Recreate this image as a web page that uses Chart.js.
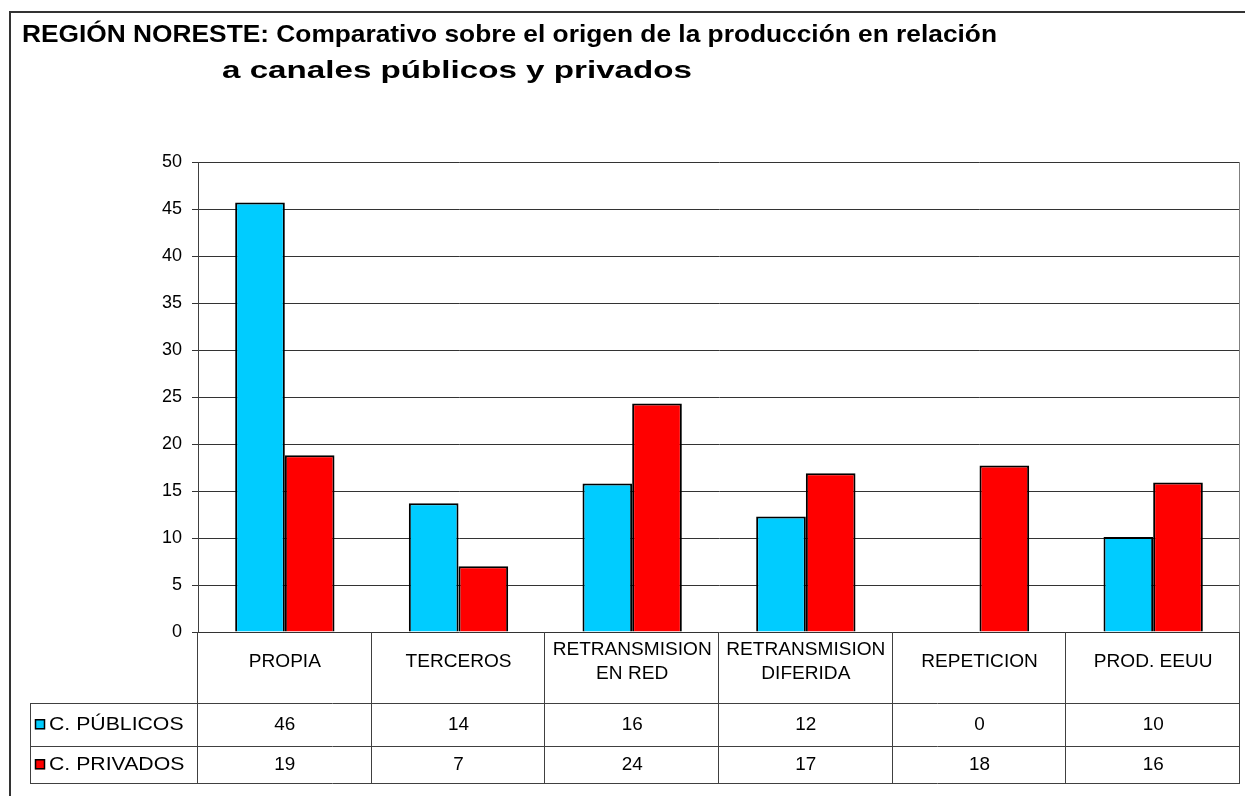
<!DOCTYPE html>
<html>
<head>
<meta charset="utf-8">
<script src="https://cdn.jsdelivr.net/npm/chart.js@4.4.1/dist/chart.umd.min.js"></script>
<style>
  html, body { margin: 0; padding: 0; background: #fff; }
  #wrap { width: 1245px; height: 796px; position: relative; }
</style>
</head>
<body>
<div id="wrap"><canvas id="c" width="1245" height="796"></canvas></div>
<script>
// ---- data ----
const titleLines = ['REGIÓN NORESTE: Comparativo sobre el origen de la producción en relación',
                    'a canales públicos y privados'];
const categories = [['PROPIA'], ['TERCEROS'], ['RETRANSMISION', 'EN RED'], ['RETRANSMISION', 'DIFERIDA'], ['REPETICION'], ['PROD. EEUU']];
const seriesNames = ['C. PÚBLICOS', 'C. PRIVADOS'];
const publicos = [45.7, 13.7, 15.8, 12.3, 0, 10.1];
const privados = [18.8, 7.0, 24.3, 16.9, 17.7, 15.9];
const tablePublicos = ['46', '14', '16', '12', '0', '10'];
const tablePrivados = ['19', '7', '24', '17', '18', '16'];
const yMin = 0, yMax = 50, yStep = 5;

const colors = ['#00CCFF', '#FF0000'];
const FONT = '"Liberation Sans", Arial, sans-serif';

// draw text stretched horizontally by factor sx, anchored by current textAlign
function stretchedText(ctx, text, x, y, sx) {
  ctx.save();
  ctx.translate(x, y);
  ctx.scale(sx, 1);
  ctx.fillText(text, 0, 0);
  ctx.restore();
}

const tablePlugin = {
  id: 'tablePlugin',
  afterDraw(chart) {
    const ctx = chart.ctx;
    const area = chart.chartArea;
    const xs = chart.scales.x;
    const n = categories.length;
    const catW = (area.right - area.left) / n;
    const y0 = area.bottom;
    const rowLabelBottom = y0 + 71;
    const row1Bottom = rowLabelBottom + 42.5;
    const row2Bottom = row1Bottom + 37.5;
    const legLeft = 30;

    ctx.save();
    // outer border
    ctx.strokeStyle = '#333';
    ctx.lineWidth = 2;
    ctx.strokeRect(10, 12, 1245, 800);

    // plot right border
    ctx.strokeStyle = '#808080';
    ctx.lineWidth = 1;
    ctx.beginPath();
    ctx.moveTo(Math.round(area.right) - 0.5, area.top);
    ctx.lineTo(Math.round(area.right) - 0.5, area.bottom);
    ctx.stroke();

    // table lines
    ctx.strokeStyle = '#404040';
    ctx.lineWidth = 1;
    ctx.beginPath();
    [rowLabelBottom, row1Bottom, row2Bottom].forEach(y => {
      const yy = Math.round(y) + 0.5;
      ctx.moveTo(legLeft, yy); ctx.lineTo(area.right, yy);
    });
    for (let i = 0; i <= n; i++) {
      const x = Math.round(area.left + i * catW) - 0.5;
      ctx.moveTo(x, y0); ctx.lineTo(x, Math.round(row2Bottom) + 0.5);
    }
    ctx.moveTo(legLeft + 0.5, Math.round(rowLabelBottom) + 0.5);
    ctx.lineTo(legLeft + 0.5, Math.round(row2Bottom) + 0.5);
    ctx.stroke();

    // category labels
    ctx.fillStyle = '#000';
    ctx.font = '18px ' + FONT;
    ctx.textAlign = 'center';
    ctx.textBaseline = 'middle';
    categories.forEach((lines, i) => {
      const cx = xs.getPixelForValue(i);
      const mid = (y0 + rowLabelBottom) / 2 - 5;
      const lh = 24;
      lines.forEach((t, j) => {
        stretchedText(ctx, t, cx, mid + (j - (lines.length - 1) / 2) * lh, 1.06);
      });
    });

    // data rows
    const rows = [tablePublicos, tablePrivados];
    const rowMid = [(rowLabelBottom + row1Bottom) / 2, (row1Bottom + row2Bottom) / 2];
    rows.forEach((vals, r) => {
      ctx.textAlign = 'center';
      vals.forEach((v, i) => stretchedText(ctx, v, xs.getPixelForValue(i), rowMid[r] + 1, 1.05));
      // legend key
      ctx.fillStyle = colors[r];
      ctx.fillRect(35, rowMid[r] - 5, 10, 10);
      ctx.strokeStyle = '#000';
      ctx.lineWidth = 1.5;
      ctx.strokeRect(35.5, rowMid[r] - 4.5, 9, 9);
      ctx.fillStyle = '#000';
      ctx.textAlign = 'left';
      stretchedText(ctx, seriesNames[r], 49, rowMid[r] + 1, 1.18);
    });

    // title
    ctx.font = 'bold 24px ' + FONT;
    ctx.textAlign = 'left';
    ctx.textBaseline = 'alphabetic';
    const w1 = ctx.measureText(titleLines[0]).width;
    const w2 = ctx.measureText(titleLines[1]).width;
    stretchedText(ctx, titleLines[0], 22, 42, 975 / w1);
    stretchedText(ctx, titleLines[1], 222, 78, 470 / w2);
    ctx.restore();
  }
};

new Chart(document.getElementById('c'), {
  type: 'bar',
  data: {
    labels: categories,
    datasets: [
      { label: seriesNames[0], data: publicos, backgroundColor: colors[0], borderColor: '#000', borderWidth: 2,
        categoryPercentage: 0.572, barPercentage: 1.0 },
      { label: seriesNames[1], data: privados, backgroundColor: colors[1], borderColor: '#000', borderWidth: 2,
        categoryPercentage: 0.572, barPercentage: 1.0 }
    ]
  },
  options: {
    responsive: false,
    animation: false,
    devicePixelRatio: 1,
    layout: { padding: { top: 162, right: 5, bottom: 164, left: 0 } },
    plugins: { legend: { display: false }, title: { display: false }, tooltip: { enabled: false } },
    scales: {
      x: { display: false },
      y: {
        min: yMin, max: yMax,
        afterFit: s => { s.width = 198; },
        ticks: { stepSize: yStep, color: '#000', font: { family: FONT, size: 18 }, padding: 10 },
        grid: { color: '#333', lineWidth: 1, tickLength: 6, drawTicks: true },
        border: { color: '#404040', width: 1 }
      }
    }
  },
  plugins: [tablePlugin]
});
</script>
</body>
</html>
